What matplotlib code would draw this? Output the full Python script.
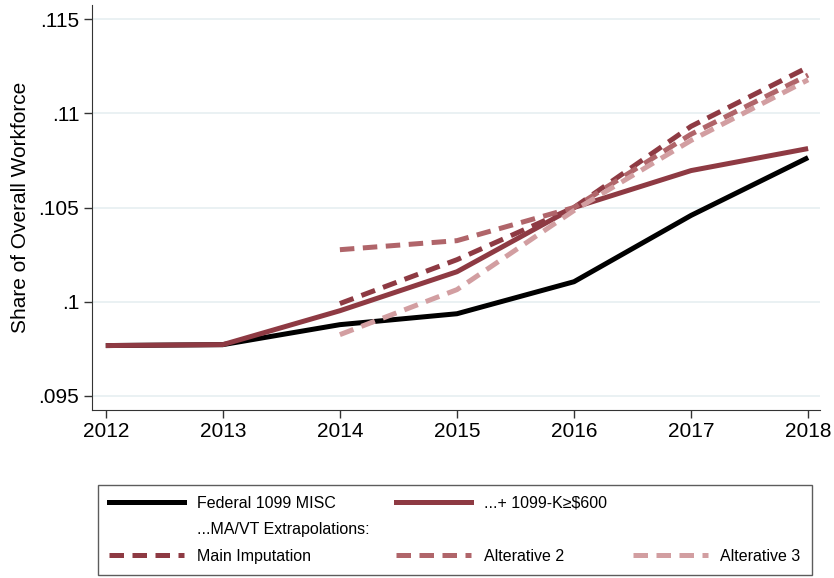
import matplotlib.pyplot as plt
from matplotlib.lines import Line2D

plt.rcParams['font.family'] = ['Liberation Sans', 'DejaVu Sans']

years = [2012, 2013, 2014, 2015, 2016, 2017, 2018]
federal = [0.09767, 0.09772, 0.09878, 0.09936, 0.10106, 0.10458, 0.10765]
plus_1099k = [0.09767, 0.09772, 0.09952, 0.10159, 0.10500, 0.10696, 0.10813]

imp_years = [2014, 2015, 2016, 2017, 2018]
main_imp = [0.09990, 0.10223, 0.10500, 0.10931, 0.11245]
alt2 = [0.10276, 0.10324, 0.10500, 0.10889, 0.11203]
alt3 = [0.09825, 0.10064, 0.10484, 0.10856, 0.11178]

yticks = [0.095, 0.1, 0.105, 0.11, 0.115]
ytick_labels = ['.095', '.1', '.105', '.11', '.115']

c_red = '#8e3a43'
c_alt2 = '#b0656a'
c_alt3 = '#d29ea1'
lw = 3.6
dash = (0, (2.9, 1.7))

fig = plt.figure(figsize=(8.34, 5.78), dpi=100)
ax = fig.add_axes([0.110, 0.291, 0.873, 0.700])

ax.plot(years, federal, color='black', lw=lw, solid_capstyle='butt')
ax.plot(years, plus_1099k, color=c_red, lw=lw, solid_capstyle='butt')
ax.plot(imp_years, main_imp, color=c_red, lw=lw, ls=dash)
ax.plot(imp_years, alt2, color=c_alt2, lw=lw, ls=dash)
ax.plot(imp_years, alt3, color=c_alt3, lw=lw, ls=dash)

ax.set_xlim(2011.88, 2018.10)
ax.set_ylim(0.09426, 0.11574)
ax.set_xticks(years)
ax.set_yticks(yticks)
ax.set_yticklabels(ytick_labels)
ax.grid(axis='y', color='#e6eff1', lw=1.2)
ax.set_axisbelow(True)
ax.tick_params(axis='both', labelsize=15, length=6, width=1, color='#333333')
ax.tick_params(axis='x', pad=3)
ax.tick_params(axis='y', pad=3)
for s in ['top', 'right']:
    ax.spines[s].set_visible(False)
for s in ['left', 'bottom']:
    ax.spines[s].set_color('#333333')
ax.set_ylabel('Share of Overall Workforce', fontsize=15, labelpad=6)

# legend entries (column-wise order for ncol=3)
blank = Line2D([], [], color='none')
handles = [
    Line2D([], [], color='black', lw=lw),
    blank,
    Line2D([], [], color=c_red, lw=lw, ls=dash),
    Line2D([], [], color=c_red, lw=lw),
    blank,
    Line2D([], [], color=c_alt2, lw=lw, ls=dash),
    blank,
    blank,
    Line2D([], [], color=c_alt3, lw=lw, ls=dash),
]
labels = ['Federal 1099 MISC', '...MA/VT Extrapolations:', 'Main Imputation',
          '...+ 1099-K≥$600', '', 'Alterative 2',
          '', '', 'Alterative 3']
leg = fig.legend(handles, labels, ncol=3, loc='lower left',
                 bbox_to_anchor=(0.1175, 0.0052, 0.856, 0.16), mode='expand',
                 borderaxespad=0, fontsize=11.5, frameon=True, fancybox=False,
                 edgecolor='#333333', handlelength=4.7, handletextpad=0.8,
                 labelspacing=0.72, borderpad=0.7)
leg.get_frame().set_linewidth(1.0)

plt.savefig('out.png', dpi=100)
